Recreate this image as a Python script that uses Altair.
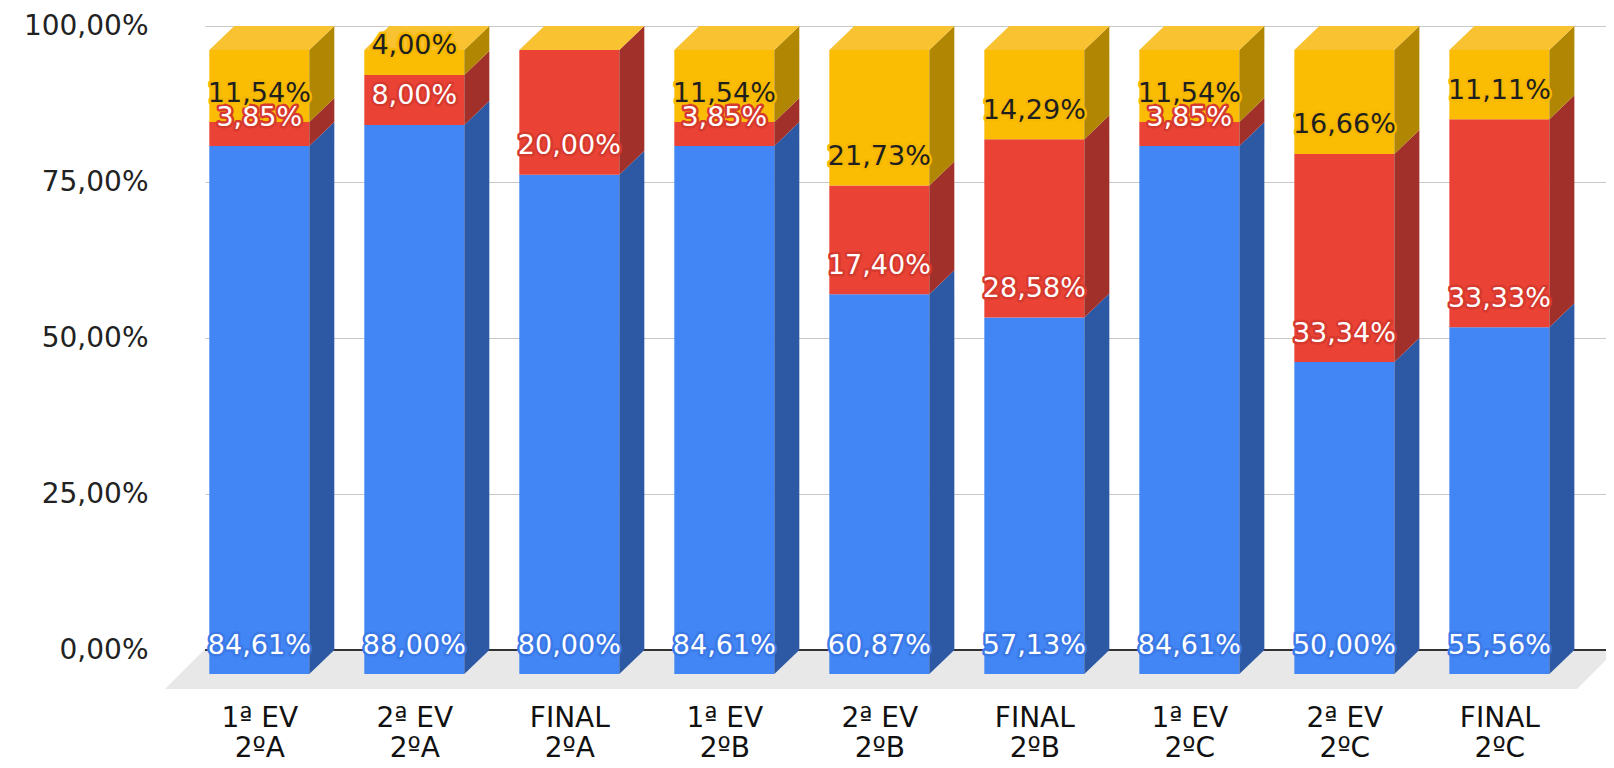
import json
import altair as alt
import pandas as pd

# ---------------- data ----------------
evaluations = ["1ª EV", "2ª EV", "FINAL", "1ª EV", "2ª EV", "FINAL", "1ª EV", "2ª EV", "FINAL"]
classes = ["2ºA", "2ºA", "2ºA", "2ºB", "2ºB", "2ºB", "2ºC", "2ºC", "2ºC"]
series_names = ["Série 1", "Série 2", "Série 3"]
blue_values = [84.61, 88.00, 80.00, 84.61, 60.87, 57.13, 84.61, 50.00, 55.56]
red_values = [3.85, 8.00, 20.00, 3.85, 17.40, 28.58, 3.85, 33.34, 33.33]
yellow_values = [11.54, 4.00, 0.00, 11.54, 21.73, 14.29, 11.54, 16.66, 11.11]
y_ticks = [0, 25, 50, 75, 100]

# ---------------- styling / 3D geometry ----------------
FRONT = {"Série 1": "#4285F4", "Série 2": "#EA4335", "Série 3": "#FBBC04"}
SIDE = {"Série 1": "#2C58A4", "Série 2": "#A1302A", "Série 3": "#B08603"}
TOP = "#F8C230"
HALO = {"Série 1": "#3B79E6", "Série 2": "#D6392E", "Série 3": "#F7B800"}
TEXT = {"Série 1": "#FFFFFF", "Série 2": "#FFFFFF", "Série 3": "#1F1F1F"}
FONT = "DejaVu Sans"

W, H = 1401, 624
HW = 0.3226     # half width of front face (x units)
DX = 0.1613     # depth, horizontal (x units)
DD = 3.85       # depth, vertical (y units)
X_MIN, X_MAX = -0.3503, 8.688
FLOOR_DEPTH = 6.25
FLOOR_DX = 0.2516
FLOOR_L, FLOOR_R = -0.6084, 8.501

series_values = {"Série 1": blue_values, "Série 2": red_values, "Série 3": yellow_values}

front_rows, side_rows, top_rows, label_rows = [], [], [], []
for i in range(len(evaluations)):
    c0 = 0.0
    for s in series_names:
        v = series_values[s][i]
        c1 = c0 + v
        front_rows.append({"bar": i, "series": s, "x0": i - HW, "x1": i + HW,
                           "y0": c0 - DD, "y1": c1 - DD, "fill": FRONT[s]})
        key = f"{i}-{s}"
        side_rows.append({"key": key, "x": i + HW, "ylo": c0 - DD, "yhi": c1 - DD, "fill": SIDE[s]})
        side_rows.append({"key": key, "x": i + HW + DX, "ylo": c0, "yhi": c1, "fill": SIDE[s]})
        if v > 0:
            label_rows.append({"bar": i, "series": s, "x": i, "y": c0,
                               "label": f"{v:.2f}".replace(".", ",") + "%"})
        c0 = c1
    top_rows.append({"bar": i, "y": c0 - DD, "xl": i - HW, "xr": i + HW})
    top_rows.append({"bar": i, "y": c0, "xl": i - HW + DX, "xr": i + HW + DX})

front_df = pd.DataFrame(front_rows)
side_df = pd.DataFrame(side_rows)
top_df = pd.DataFrame(top_rows)
label_df = pd.DataFrame(label_rows)
floor_df = pd.DataFrame([
    {"y": -FLOOR_DEPTH, "xl": FLOOR_L, "xr": FLOOR_R},
    {"y": 0.0, "xl": FLOOR_L + FLOOR_DX, "xr": FLOOR_R + FLOOR_DX},
])

xscale = alt.Scale(domain=[X_MIN, X_MAX], nice=False, zero=False)
yscale = alt.Scale(domain=[0, 100], nice=False, zero=False)

label_expr = ("[" + json.dumps(evaluations, ensure_ascii=False) + "[datum.value], "
              + json.dumps(classes, ensure_ascii=False) + "[datum.value]]")

xaxis = alt.Axis(values=list(range(len(evaluations))), labelExpr=label_expr, title=None,
                 domain=False, ticks=False, grid=False, labelFont=FONT, labelFontSize=28,
                 labelColor="#111111", labelPadding=54, labelLineHeight=30,
                 labelBaseline="top", labelFlush=False, labelOverlap=False)
yaxis = alt.Axis(values=y_ticks, labelExpr="replace(format(datum.value, '.2f'), '.', ',') + '%'",
                 title=None, domain=False, ticks=False, grid=True, gridColor="#C8C8C8",
                 gridWidth=1.2, labelFont=FONT, labelFontSize=28, labelColor="#222222",
                 labelPadding=57)


def X(field):
    return alt.X(field, scale=xscale, axis=xaxis, title=None)


def Y(field):
    return alt.Y(field, scale=yscale, axis=yaxis, stack=None, title=None)


floor = alt.Chart(floor_df).mark_area(orient="horizontal", color="#E8E8E8").encode(
    y=Y("y:Q"), x=X("xl:Q"), x2="xr:Q",
)

zero_rule = alt.Chart(pd.DataFrame({"y": [0]})).mark_rule(color="#333333", strokeWidth=2).encode(
    y=Y("y:Q"), x=alt.value(0), x2=alt.value(W),
)

fronts = alt.Chart(front_df).mark_rect().encode(
    x=X("x0:Q"), x2="x1:Q", y=Y("y0:Q"), y2="y1:Q",
    color=alt.Color("fill:N", scale=None),
)

sides = alt.Chart(side_df).mark_area(orient="vertical").encode(
    x=X("x:Q"), y=Y("yhi:Q"), y2="ylo:Q", detail="key:N",
    color=alt.Color("fill:N", scale=None),
)

tops = alt.Chart(top_df).mark_area(orient="horizontal", color=TOP).encode(
    y=Y("y:Q"), x=X("xl:Q"), x2="xr:Q", detail="bar:N",
)

label_layers = []
for s in series_names:
    sub = label_df[label_df["series"] == s]
    base = alt.Chart(sub).encode(x=X("x:Q"), y=Y("y:Q"), text="label:N")
    label_layers.append(base.mark_text(font=FONT, fontSize=27, dy=-4.5, fill=HALO[s],
                                       stroke=HALO[s], strokeWidth=5, strokeJoin="round"))
    label_layers.append(base.mark_text(font=FONT, fontSize=27, dy=-4.5, fill=TEXT[s]))

chart = alt.layer(floor, zero_rule, fronts, sides, tops, *label_layers).properties(
    width=W, height=H,
    autosize=alt.AutoSizeParams(type="none"),
    padding={"left": 197, "top": 18, "right": 0, "bottom": 116},
    background="white",
).configure_view(stroke=None)

chart.save("out.html", embed_options={"renderer": "svg", "actions": False})
